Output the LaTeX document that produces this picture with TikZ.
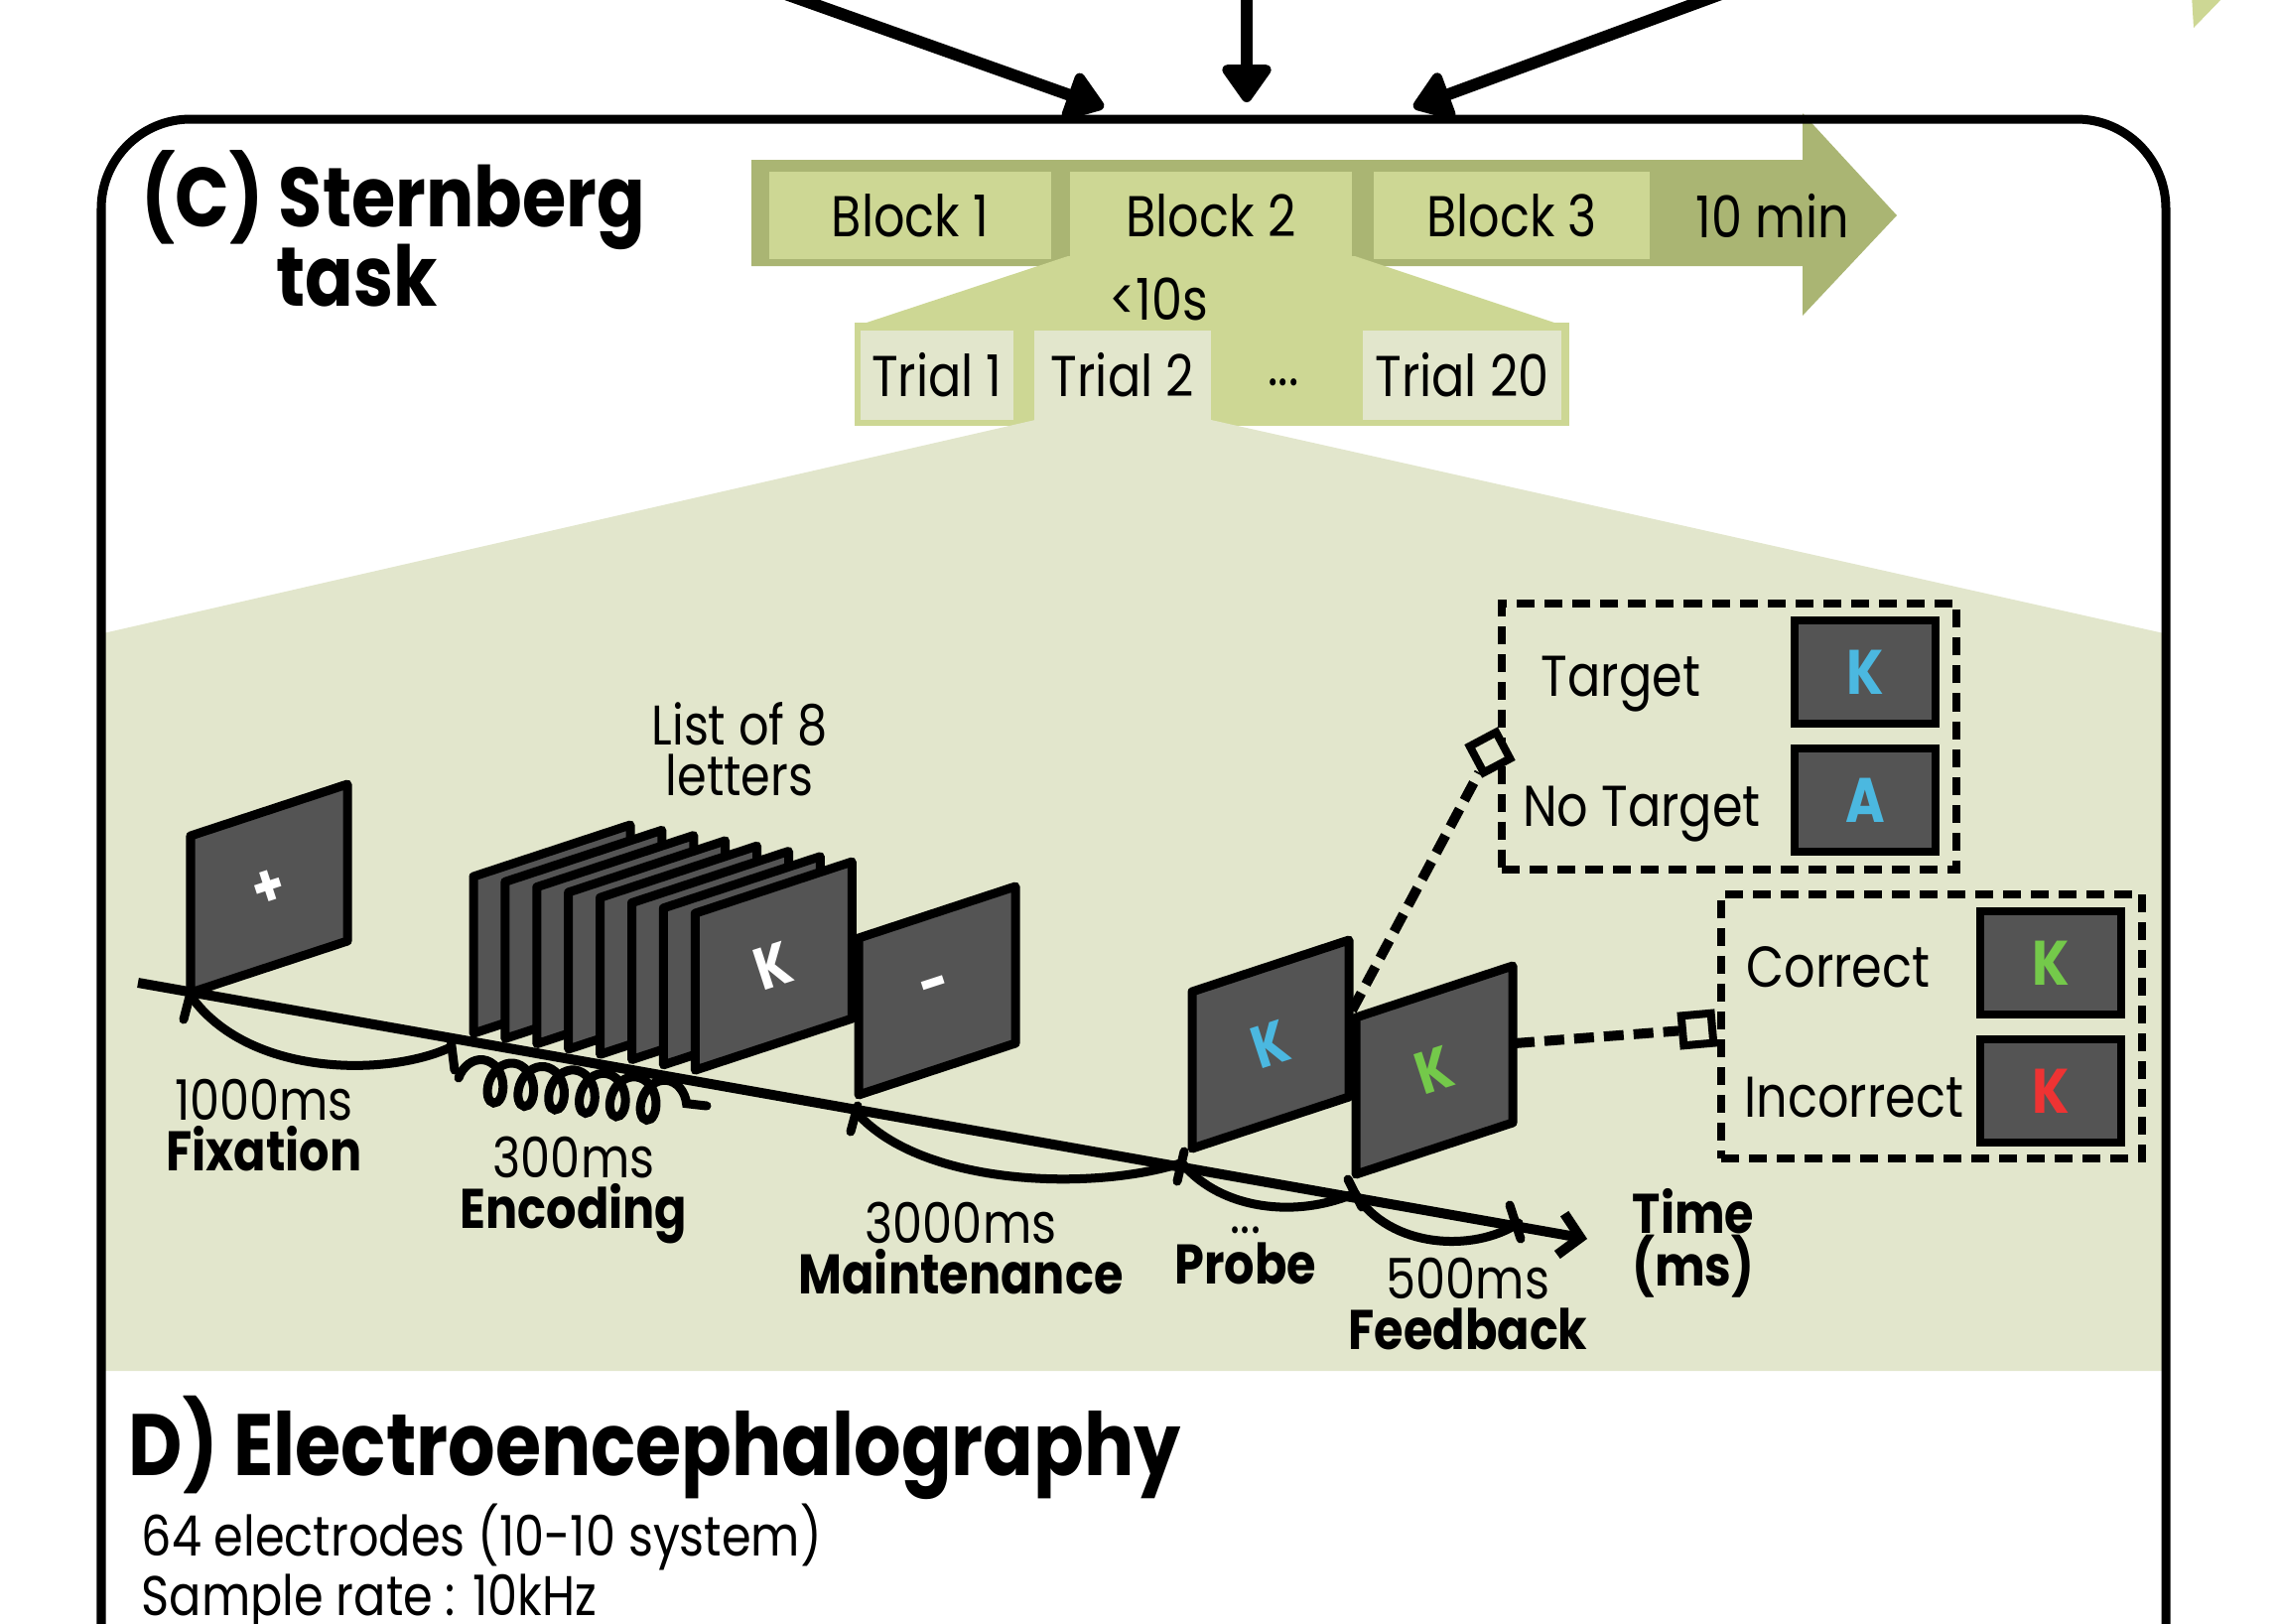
\documentclass[tikz,border=0pt]{standalone}
\usepackage{fontspec}
\setmainfont{Poppins}[FakeStretch=0.85]
\usepackage{xcolor}
\usepackage{tikz}
\usetikzlibrary{arrows.meta}
\usetikzlibrary{calc}
\usetikzlibrary{positioning}
\usetikzlibrary{decorations.pathmorphing}

\definecolor{arrowgreen}{HTML}{AAB573}
\definecolor{blockgreen}{HTML}{CDD794}
\definecolor{palegreen}{HTML}{E2E6CC}
\definecolor{scrgray}{HTML}{545454}
\definecolor{kblue}{HTML}{4BB8E0}
\definecolor{kgreen}{HTML}{74C94A}
\definecolor{kred}{HTML}{EE3333}

\tikzset{headline/.style={inner sep=0pt, anchor=base west, font=\bfseries\fontsize{24}{29}\selectfont}}
\tikzset{screen/.style={fill=scrgray, draw=black, line width=0.09cm, line join=round}}
\tikzset{tile/.style={fill=scrgray, draw=black, line width=0.08cm, minimum width=1.41cm, minimum height=1.03cm, font=\bfseries\fontsize{18}{20}\selectfont}}
\tikzset{blockbox/.style={fill=blockgreen, minimum width=2.83cm, minimum height=0.88cm, inner sep=0pt, font=\fontsize{16.5}{19}\selectfont}}
\tikzset{trialbox/.style={fill=palegreen, minimum height=0.89cm, inner sep=0pt, font=\fontsize{16.5}{19}\selectfont}}
\tikzset{dashbox/.style={draw=black, line width=0.08cm, dash pattern=on 0.18cm off 0.1cm}}
\tikzset{knob/.style={draw=black, fill=palegreen, line width=0.08cm, minimum size=0.3cm, inner sep=0pt}}
\tikzset{conn/.style={line width=0.1cm, dash pattern=on 0.2cm off 0.1cm}}
\tikzset{tickmark/.style={line width=0.09cm, line cap=round}}
\tikzset{span/.style={line width=0.09cm, line cap=round}}
\tikzset{lbl/.style={inner sep=0pt, anchor=base, font=\fontsize{16}{19}\selectfont}}
\tikzset{lblb/.style={inner sep=0pt, anchor=base, font=\bfseries\fontsize{16}{19}\selectfont}}
\tikzset{resp/.style={inner sep=0pt, anchor=base, font=\fontsize{16.5}{19}\selectfont}}
\tikzset{onscreen/.style={inner sep=0pt, rotate=18, font=\bfseries\fontsize{17}{19}\selectfont}}

% one screen in perspective, bottom left corner at (#2,#3)
\newcommand{\screenat}[3]{%
  \draw[screen] (#2,#3) -- ++(0,-158) -- ++(158,-52) -- ++(0,158) -- cycle;
  \coordinate (#1) at (#2+79,#3-105);
}

\begin{document}
\begin{tikzpicture}[x=0.01cm, y=-0.01cm]
  \useasboundingbox (0,0) rectangle (2296,1636);

  % arrows coming in from above
  \coordinate (inL) at (752,-20);
  \coordinate (inM) at (1256,-20);
  \coordinate (inR) at (1772,-20);
  \coordinate (topL) at (1112,108);
  \coordinate (topM) at (1256,103);
  \coordinate (topR) at (1424,108);
  \path [-{Triangle[length=0.42cm, width=0.56cm, round]}, line width=0.12cm]
    (inL) edge (topL) (inM) edge (topM) (inR) edge (topR);
  \fill[blockgreen] (2208,-5) -- (2242,-5) -- (2210,28) -- cycle;

  % session arrow with blocks
  \fill[arrowgreen] (757,161) -- (1816,161) -- (1816,114) -- (1911,217)
    -- (1816,318) -- (1816,268) -- (757,268) -- cycle;
  \node[blockbox] (B1) at (917,217) {Block 1};
  \node[blockbox] (B2) at (1220,217) {Block 2};
  \node[blockbox, minimum width=2.78cm] (B3) at (1523,217) {Block 3};
  \node[inner sep=0pt, font=\fontsize{16.5}{19}\selectfont] (dur) at (1786,217) {10 min};

  % trials of block 2
  \fill[blockgreen] (1076,258) -- (1365,258) -- (1578,329) -- (861,329) -- cycle;
  \fill[blockgreen] (861,325) rectangle (1581,429);
  \node[inner sep=0pt, anchor=base, font=\fontsize{16.5}{19}\selectfont] (tdur) at (1167,322) {<10s};
  \node[trialbox, minimum width=1.53cm] (T1) at (944,378) {Trial 1};
  \node[trialbox, minimum width=1.77cm] (T2) at (1131,378) {Trial 2};
  \node[inner sep=0pt, font=\fontsize{16.5}{19}\selectfont] (Tdots) at (1293,385) {...};
  \node[trialbox, minimum width=2.00cm] (T20) at (1473,378) {Trial 20};

  % one trial
  \fill[palegreen] (1043,423) -- (1220,423) -- (2180,638) -- (2180,1381)
    -- (104,1381) -- (104,638) -- cycle;

  % frame
  \draw[line width=0.09cm, rounded corners=0.9cm] (102,1690) -- (102,120) -- (2182,120) -- (2182,1690);

  \node[headline] (titleC) at (142,228) {(C) Sternberg};
  \node[headline] (titleC2) at (278,308) {task};

  % screens
  \screenat{fix}{192}{1000}
  \foreach \i in {0,...,7} {
    \screenat{enc\i}{477+31.9*\i}{1041+5.3*\i}
  }
  \screenat{mnt}{865}{1103}
  \screenat{prb}{1201}{1157}
  \screenat{fdb}{1366}{1183}
  \node[onscreen, white] (fixS) at (fix) {+};
  \node[onscreen, white] (encS) at (enc7) {K};
  \node[onscreen, white] (mntS) at (mnt) {-};
  \node[onscreen, kblue] (prbS) at (prb) {K};
  \node[onscreen, kgreen] (fdbS) at (fdb) {K};

  % time line
  \coordinate (t0) at (139,990);
  \coordinate (t1) at (1599,1248);
  \draw[line width=0.1cm, -{Straight Barb[length=0.2cm, width=0.42cm]}] (t0) -- (t1);
  \draw[tickmark] (192,1000) -- (185,1027);
  \draw[tickmark] (454,1046) -- (458,1078);
  \draw[tickmark] (864,1114) -- (857,1140);
  \draw[tickmark] (1193,1160) -- (1186,1190);
  \draw[tickmark] (1358,1188) -- (1372,1216);
  \draw[tickmark] (1521,1214) -- (1532,1248);
  \draw[span] (192,1003) .. controls (250,1085) and (390,1085) .. (454,1055);
  \draw[span, decorate, decoration={coil, amplitude=0.21cm, segment length=0.31cm, aspect=0.7}]
    (462,1086) -- (712,1114);
  \draw[span] (864,1122) .. controls (930,1195) and (1100,1200) .. (1189,1172);
  \draw[span] (1192,1173) .. controls (1230,1218) and (1305,1228) .. (1365,1202);
  \draw[span] (1365,1202) .. controls (1400,1258) and (1485,1262) .. (1530,1232);

  % labels
  \node[lbl] (listA) at (745,750) {List of 8};
  \node[lbl] (listB) at (745,801) {letters};
  \node[lbl] (fixT) at (266,1128) {1000ms};
  \node[lblb] (fixL) at (266,1179) {Fixation};
  \node[lbl] (encT) at (578,1186) {300ms};
  \node[lblb] (encL) at (578,1237) {Encoding};
  \node[lbl] (mntT) at (968,1252) {3000ms};
  \node[lblb] (mntL) at (968,1303) {Maintenance};
  \node[lbl] (prbT) at (1255,1242) {...};
  \node[lblb] (prbL) at (1255,1293) {Probe};
  \node[lbl] (fdbT) at (1479,1308) {500ms};
  \node[lblb] (fdbL) at (1479,1359) {Feedback};
  \node[lblb] (timeA) at (1706,1242) {Time};
  \node[lblb] (timeB) at (1706,1295) {(ms)};

  % probe answers
  \node[dashbox, minimum width=4.57cm, minimum height=2.67cm] (respbox) at (1742,742) {};
  \node[resp] (tgtL) at (1633,701) {Target};
  \node[resp] (ntgL) at (1654,832) {No Target};
  \node[tile] (tgtK) at (1879,677) {\color{kblue}K};
  \node[tile] (ntgA) at (1879,806) {\color{kblue}A};

  % feedback answers
  \node[dashbox, minimum width=4.24cm, minimum height=2.66cm] (fbbox) at (1946,1034) {};
  \node[resp] (corL) at (1852,994) {Correct};
  \node[resp] (incL) at (1868,1125) {Incorrect};
  \node[tile] (corK) at (2066,970) {\color{kgreen}K};
  \node[tile] (incK) at (2066,1099) {\color{kred}K};

  % dashed links
  \coordinate (prbR) at (1362,1018);
  \coordinate (fdbR) at (1526,1051);
  \node[knob, rotate=28] (knT) at (1501,758) {};
  \node[knob, rotate=5] (knF) at (1710,1037) {};
  \draw[conn] (prbR) -- (knT);
  \draw[conn] (fdbR) -- (knF);

  % EEG
  \node[headline, font=\bfseries\fontsize{25}{30}\selectfont] (titleD) at (129,1486) {D) Electroencephalography};
  \node[inner sep=0pt, anchor=base west, font=\fontsize{16}{19}\selectfont] (eegA) at (142,1567) {64 electrodes (10-10 system)};
  \node[inner sep=0pt, anchor=base west, font=\fontsize{16}{19}\selectfont] (eegB) at (142,1627) {Sample rate : 10kHz};
\end{tikzpicture}
\end{document}
